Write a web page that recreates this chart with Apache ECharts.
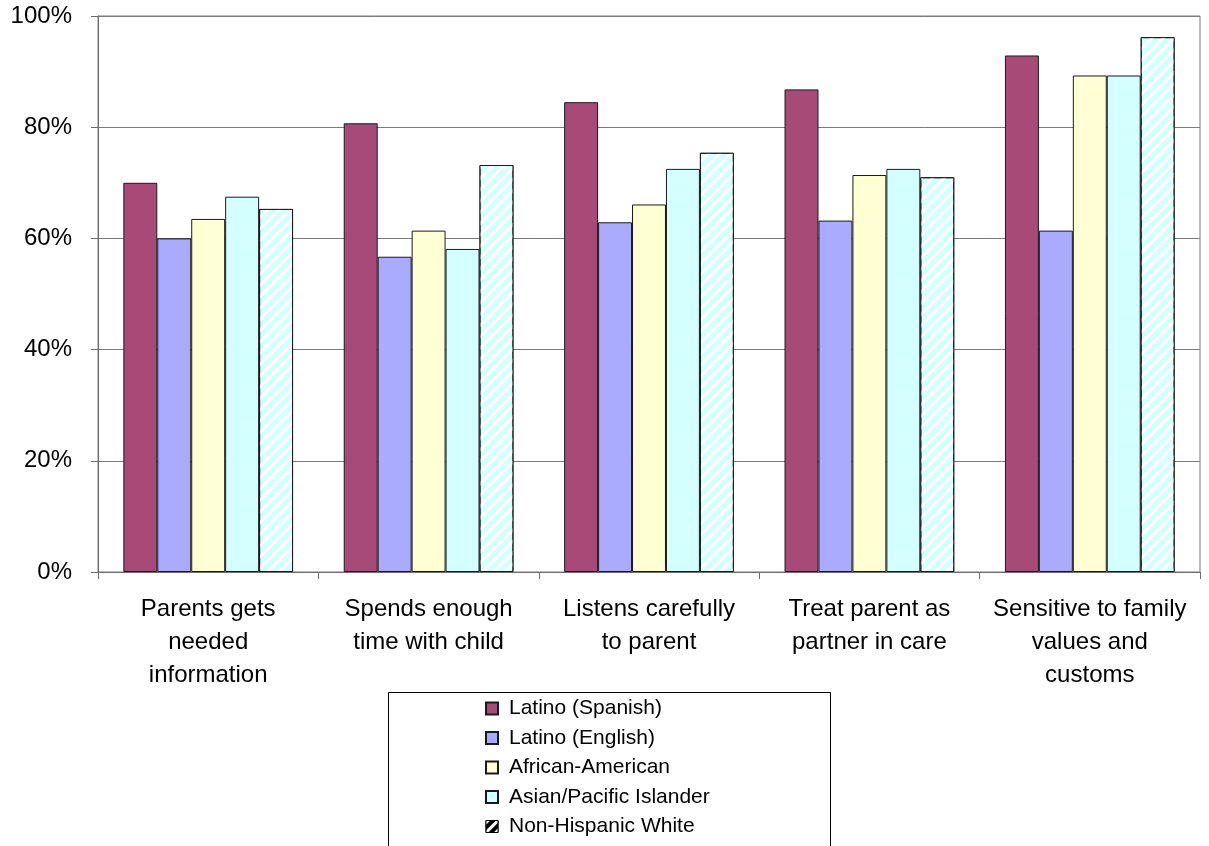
<!DOCTYPE html>
<html>
<head>
<meta charset="utf-8">
<style>
  html, body { margin: 0; padding: 0; background: #fff; }
  #chart { width: 1209px; height: 846px; }
</style>
<script src="https://cdn.jsdelivr.net/npm/echarts@6/dist/echarts.min.js"></script>
</head>
<body>
<div id="chart"></div>
<script>
// Survey items (x-axis categories)
const categories = [
  'Parents gets\nneeded\ninformation',
  'Spends enough\ntime with child',
  'Listens carefully\nto parent',
  'Treat parent as\npartner in care',
  'Sensitive to family\nvalues and\ncustoms'
];

// Percent reporting "yes", by group
const latinoSpanish   = [70.0, 80.7, 84.5, 86.8, 92.9];
const latinoEnglish   = [60.0, 56.7, 62.9, 63.2, 61.4];
const africanAmerican = [63.5, 61.4, 66.1, 71.4, 89.3];
const asianPacific    = [67.5, 58.1, 72.5, 72.5, 89.3];
const nonHispanicWhite = [65.3, 73.2, 75.4, 71.0, 96.2];

const yTicks = [0, 20, 40, 60, 80, 100];

const FONT = '"Liberation Sans", Arial, sans-serif';

// White diagonal stripes used for the Non-Hispanic White bars
const stripeDecal = {
  symbol: 'rect',
  symbolSize: 1,
  color: 'rgba(255,255,255,0.95)',
  dashArrayX: [1, 0],
  dashArrayY: [3, 5],
  rotation: -Math.PI / 4
};

function barSeries(name, data, color, extra) {
  return Object.assign({
    name: name,
    type: 'bar',
    data: data,
    barGap: '0%',
    barCategoryGap: '23%',
    itemStyle: { color: color, borderColor: '#1a1a1a', borderWidth: 1 }
  }, extra || {});
}

const chart = echarts.init(document.getElementById('chart'), null, { renderer: 'canvas' });

chart.setOption({
  animation: false,
  backgroundColor: '#ffffff',
  grid: {
    left: 98, right: 9, top: 16, bottom: 274,
    show: true, borderColor: '#7a7a7a', borderWidth: 1, backgroundColor: 'transparent'
  },
  // legend frame (runs off the bottom edge of the page)
  graphic: [{
    type: 'rect',
    left: 388, top: 692, z: 0,
    shape: { width: 442, height: 200 },
    style: { fill: '#fff', stroke: '#000', lineWidth: 1 }
  }],
  xAxis: {
    type: 'category',
    data: categories,
    axisLine: { lineStyle: { color: '#6e6e6e', width: 1 } },
    axisTick: { show: true, length: 7, lineStyle: { color: '#6e6e6e' } },
    axisLabel: {
      interval: 0,
      margin: 21,
      color: '#000',
      fontFamily: FONT,
      fontSize: 24,
      lineHeight: 33,
      align: 'center'
    },
    splitLine: { show: false }
  },
  yAxis: {
    type: 'value',
    min: yTicks[0],
    max: yTicks[yTicks.length - 1],
    interval: 20,
    axisLine: { show: true, lineStyle: { color: '#6e6e6e', width: 1 } },
    axisTick: { show: true, length: 7, lineStyle: { color: '#6e6e6e' } },
    axisLabel: {
      margin: 26,
      color: '#000',
      fontFamily: FONT,
      fontSize: 24,
      formatter: v => v + '%'
    },
    splitLine: { show: true, lineStyle: { color: '#7a7a7a', width: 1 } }
  },
  legend: {
    orient: 'vertical',
    left: 485,
    top: 698,
    padding: 0,
    z: 5,
    itemWidth: 12,
    itemHeight: 12,
    itemGap: 8.5,
    align: 'left',
    textStyle: {
      color: '#000',
      fontFamily: FONT,
      fontSize: 21,
      lineHeight: 21,
      padding: [0, 0, 0, 6]
    },
    data: [
      { name: 'Latino (Spanish)', icon: 'rect' },
      { name: 'Latino (English)', icon: 'rect' },
      { name: 'African-American', icon: 'rect' },
      { name: 'Asian/Pacific Islander', icon: 'rect' },
      {
        name: 'Non-Hispanic White', icon: 'rect',
        itemStyle: {
          color: '#000', borderColor: '#000', borderWidth: 1,
          decal: { symbol: 'rect', symbolSize: 1, color: '#fff', dashArrayX: [1, 0], dashArrayY: [3, 4], rotation: -Math.PI / 4 }
        }
      }
    ]
  },
  series: [
    barSeries('Latino (Spanish)', latinoSpanish, '#A84A77'),
    barSeries('Latino (English)', latinoEnglish, '#AAAAFF'),
    barSeries('African-American', africanAmerican, '#FFFFD4'),
    barSeries('Asian/Pacific Islander', asianPacific, '#D4FFFF'),
    barSeries('Non-Hispanic White', nonHispanicWhite, '#D4FFFF', {
      itemStyle: { color: '#D4FFFF', borderColor: '#1a1a1a', borderWidth: 1, decal: stripeDecal }
    })
  ]
});
</script>
</body>
</html>
